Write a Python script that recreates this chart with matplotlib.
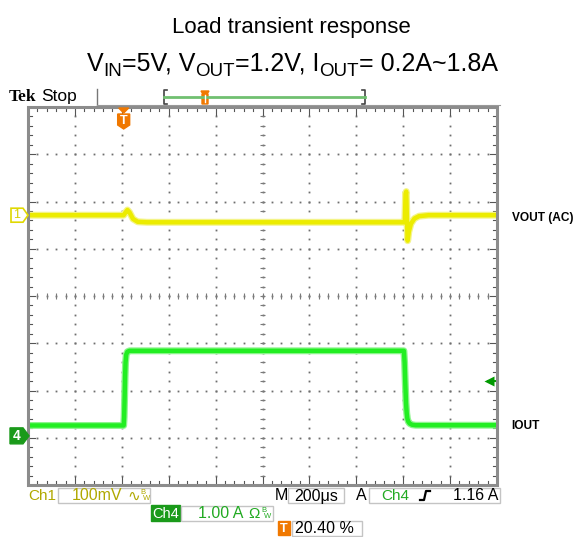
import numpy as np
import matplotlib.pyplot as plt
from matplotlib.patches import Rectangle, Polygon

plt.rcParams['font.family'] = ['Liberation Sans', 'DejaVu Sans']

W, H = 576, 537

# scope settings
time_per_div = 200      # us/div
ch1_scale = 100         # mV/div
ch4_scale = 1.0         # A/div
ch1_pos = 1.71          # div
ch4_pos = -2.96         # div
trig_pct = 20.40
trig_level = 1.16       # A

# VOUT (AC coupled), mV
vout_t = [-408, -5, 0, 8, 16, 25, 40, 60, 100, 1194, 1199, 1202, 1205, 1208,
          1211, 1216, 1225, 1240, 1260, 1300, 1592]
vout_mv = [0, 0, 0, 6, 11, 6, -8, -14, -15, -15, -15, 45, 50, -10,
           -54, -35, -18, -7, -2, 0, 0]

# IOUT, A
iout_t = [-408, 0, 2, 4, 6, 8, 11, 16, 25, 1195, 1198, 1201, 1204, 1207,
          1210, 1214, 1220, 1230, 1245, 1592]
iout_a = [0.22, 0.22, 0.4, 0.8, 1.25, 1.55, 1.72, 1.78, 1.80, 1.80, 1.55, 1.1,
          0.7, 0.48, 0.36, 0.3, 0.26, 0.235, 0.225, 0.225]

YEL = '#ecec00'
GRN = '#22ee22'
DGRN = '#1a9a1a'
OLIVE = '#b0a800'
ORANGE = '#f07800'
GRAY = '#8c8c8c'

t0 = -trig_pct / 100 * 10 * time_per_div
t1 = t0 + 10 * time_per_div

fig = plt.figure(figsize=(W / 100, H / 100), dpi=100)

# ---- scope screen ----
sx0, sx1, sy0, sy1 = 28, 497, 107, 485
ax = fig.add_axes([sx0 / W, 1 - sy1 / H, (sx1 - sx0) / W, (sy1 - sy0) / H])
ax.set_xlim(t0, t1)
ax.set_ylim(-4, 4)
ax.axis('off')

minor_x = t0 + time_per_div / 5 * np.arange(51)
minor_y = -4 + 0.2 * np.arange(41)

# dotted grid
for k in range(1, 10):
    xg = t0 + k * time_per_div
    ax.plot(np.full_like(minor_y, xg), minor_y, ls='none', marker='s', ms=1.3,
            mec='none', color='#6e6e6e', zorder=1)
for k in range(-3, 4):
    ax.plot(minor_x, np.full_like(minor_x, k), ls='none', marker='s', ms=1.3,
            mec='none', color='#6e6e6e', zorder=1)

# center cross ticks
xc = t0 + 5 * time_per_div
ax.vlines(minor_x, -0.07, 0.07, color='#7a7a7a', lw=0.8, zorder=1)
ax.hlines(minor_y, xc - 12, xc + 12, color='#7a7a7a', lw=0.8, zorder=1)

# ruler ticks on frame
for i, x in enumerate(minor_x):
    L = 0.16 if i % 5 == 0 else 0.08
    ax.plot([x, x], [4, 4 - L], color='#555555', lw=0.8)
    ax.plot([x, x], [-4, -4 + L], color='#555555', lw=0.8)
for i, y in enumerate(minor_y):
    L = 30 if i % 5 == 0 else 15
    ax.plot([t0, t0 + L], [y, y], color='#555555', lw=0.8)
    ax.plot([t1, t1 - L], [y, y], color='#555555', lw=0.8)

ax.add_patch(Rectangle((t0, -4), t1 - t0, 8, fill=False, ec=GRAY, lw=2.2,
                       clip_on=False, zorder=5))

# traces
vy = np.array(vout_mv) / ch1_scale + ch1_pos
iy = np.array(iout_a) / ch4_scale + ch4_pos
ax.plot(vout_t, vy, color='#f4f488', lw=5.0, solid_joinstyle='round', zorder=3)
ax.plot(vout_t, vy, color=YEL, lw=3.2, solid_joinstyle='round', zorder=4)
ax.plot(iout_t, iy, color='#8ef58e', lw=5.0, solid_joinstyle='round', zorder=3)
ax.plot(iout_t, iy, color=GRN, lw=3.2, solid_joinstyle='round', zorder=4)

# trigger level arrow
ty = trig_level / ch4_scale + ch4_pos
ax.plot([t1 - 40, t1 - 8], [ty, ty], color='#009900', lw=1.4, clip_on=False, zorder=6)
ax.plot(t1 - 36, ty, marker='<', ms=7, mec='none', color='#009900', clip_on=False, zorder=6)

# ---- overlay in pixel coords ----
ov = fig.add_axes([0, 0, 1, 1], zorder=10)
ov.set_xlim(0, W)
ov.set_ylim(H, 0)
ov.axis('off')

ov.text(291, 27, 'Load transient response', fontsize=16, ha='center', va='center')

# second title line with subscripts, centred
pieces = [('V', 18, 0), ('IN', 13.5, 5), ('=5V, V', 18, 0), ('OUT', 13.5, 5),
          ('=1.2V, I', 18, 0), ('OUT', 13.5, 5), ('= 0.2A~1.8A', 18, 0)]
renderer = fig.canvas.get_renderer()
objs = []
for s, fs, dy in pieces:
    t = ov.text(0, 71 + dy, s, fontsize=fs, va='baseline', ha='left')
    objs.append(t)
widths = [t.get_window_extent(renderer).width for t in objs]
x = 292 - sum(widths) / 2
for t, w in zip(objs, widths):
    t.set_x(x)
    x += w

# header
ov.text(9, 97, 'Tek', family='Liberation Serif', weight='bold', fontsize=12.5, va='center')
ov.text(41, 97, 'Stop', fontsize=12.5, va='center')
ov.plot([97, 97], [89, 105], color='#777777', lw=1)
ov.plot([97, 500], [105, 105], color='#999999', lw=0.8)
bx0, bx1 = 164, 365
ov.plot([bx0 + 3, bx0, bx0, bx0 + 3], [90, 90, 104, 104], color='#444444', lw=1.2)
ov.plot([bx1 - 3, bx1, bx1, bx1 - 3], [90, 90, 104, 104], color='#444444', lw=1.2)
ov.plot([bx0, bx1], [97, 97], color='#70c070', lw=2)
rx = bx0 + trig_pct / 100 * (bx1 - bx0)
ov.add_patch(Polygon([(rx - 4, 91), (rx + 4, 91), (rx + 2, 94), (rx + 3, 94),
                      (rx + 3, 104), (rx - 3, 104), (rx - 3, 94), (rx - 2, 94)],
                     closed=True, color=ORANGE))
ov.plot([rx, rx], [95, 102], color='white', lw=1)

# trigger T marker
tx = sx0 + trig_pct / 100 * (sx1 - sx0)
ov.add_patch(Polygon([(tx - 5, 108), (tx + 5, 108), (tx, 113)], closed=True, color=ORANGE))
ov.add_patch(Polygon([(tx - 6, 114), (tx + 6, 114), (tx + 6, 125), (tx, 129), (tx - 6, 125)],
                     closed=True, color=ORANGE))
ov.text(tx, 121, 'T', color='white', weight='bold', fontsize=9, ha='center', va='center')

# channel markers
y1 = sy0 + (4 - ch1_pos) / 8 * (sy1 - sy0)
y4 = sy0 + (4 - ch4_pos) / 8 * (sy1 - sy0)
ov.add_patch(Polygon([(11, y1 - 7), (23, y1 - 7), (28, y1), (23, y1 + 7), (11, y1 + 7)],
                     closed=True, fc='white', ec='#e0d800', lw=1.2))
ov.text(17, y1, '1', color='#d8d000', fontsize=9, ha='center', va='center')
ov.add_patch(Polygon([(10, y4 - 8), (23, y4 - 8), (29, y4), (23, y4 + 8), (10, y4 + 8)],
                     closed=True, color=DGRN))
ov.text(17, y4, '4', color='white', weight='bold', fontsize=10, ha='center', va='center')

ov.text(512, 218, 'VOUT (AC)', weight='bold', fontsize=8.6, va='center')
ov.text(511, 426, 'IOUT', weight='bold', fontsize=8.6, va='center')

# status bar
def box(x0, y0, x1, y1, **kw):
    ov.add_patch(Rectangle((x0, y0), x1 - x0, y1 - y0, **kw))

box(58, 488, 150, 503, fill=False, ec='#c4c4c4', lw=1)
box(288, 488, 344, 503, fill=False, ec='#c4c4c4', lw=1)
box(369, 488, 500, 503, fill=False, ec='#c4c4c4', lw=1)
ov.text(28, 496, 'Ch1', color=OLIVE, fontsize=11, va='center')
ov.text(72, 496, '100mV', color=OLIVE, fontsize=11.5, va='center')
ov.text(127, 497, '∿', color=OLIVE, fontsize=11, va='center')
ov.text(140, 493, 'B', color=OLIVE, fontsize=5.5, va='center')
ov.text(143, 499, 'W', color=OLIVE, fontsize=5.5, va='center')
ov.text(275, 496, 'M', color='black', fontsize=11.5, va='center')
ov.text(294, 496, '200μs', color='black', fontsize=11.5, va='center')
ov.text(356, 496, 'A', color='black', fontsize=11.5, va='center')
ov.text(381, 496, 'Ch4', color='#22aa22', fontsize=11, va='center')
ov.plot([420, 424, 426, 430], [500, 500, 491, 491], color='black', lw=1.6)
ov.text(498, 496, '1.16 A', color='black', fontsize=11.5, ha='right', va='center')

box(151, 505, 180, 521, color=DGRN)
ov.text(165.5, 513.5, 'Ch4', color='white', fontsize=10.5, ha='center', va='center')
box(181, 506, 273, 521, fill=False, ec='#c4c4c4', lw=1)
ov.text(198, 513.5, '1.00 A', color='#22aa22', fontsize=11.5, va='center')
ov.text(248, 513.5, 'Ω', color='#22aa22', fontsize=11, va='center')
ov.text(261, 510, 'B', color='#22aa22', fontsize=5.5, va='center')
ov.text(264, 516, 'W', color='#22aa22', fontsize=5.5, va='center')

box(278, 521, 290, 535, color=ORANGE)
ov.text(284, 528.5, 'T', color='white', weight='bold', fontsize=9, ha='center', va='center')
box(292, 521, 362, 536, fill=False, ec='#c4c4c4', lw=1)
ov.text(295, 528.5, '20.40 %', color='black', fontsize=11.5, va='center')

fig.savefig('out.png', dpi=100)
